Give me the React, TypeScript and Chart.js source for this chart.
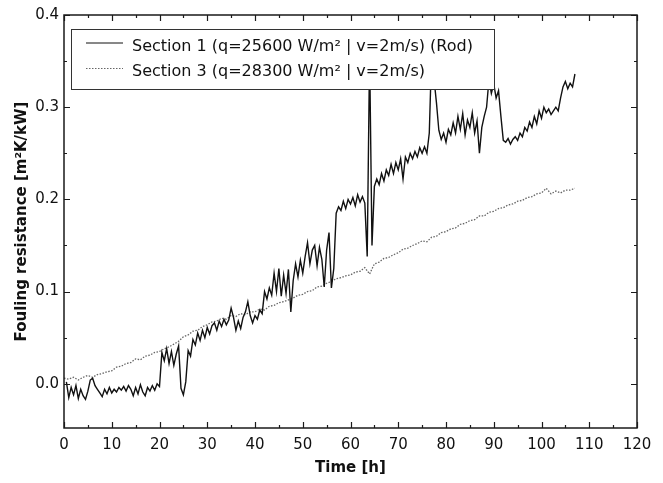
import React, { useEffect, useRef } from "react";
import { Chart, registerables } from "chart.js";

Chart.register(...registerables);

// ---- data ----
const section1Label = "Section 1 (q=25600 W/m² | v=2m/s) (Rod)";
const section3Label = "Section 3 (q=28300 W/m² | v=2m/s)";

// Section 1 sampled every 0.5 h starting at 0.5 h
const section1Start = 0.5;
const section1Step = 0.5;
const section1Values = [
  0.002, -0.015, -0.004, -0.012, -0.002, -0.016, -0.006, -0.013, -0.017, -0.008,
  0.004, 0.006, -0.002, -0.006, -0.010, -0.014, -0.006, -0.011, -0.004, -0.010,
  -0.006, -0.009, -0.004, -0.007, -0.003, -0.008, -0.002, -0.006, -0.013, -0.004,
  -0.011, -0.001, -0.009, -0.013, -0.004, -0.008, -0.002, -0.007, 0.000, -0.003,
  0.034, 0.025, 0.038, 0.022, 0.035, 0.020, 0.032, 0.041, -0.005, -0.012,
  0.002, 0.036, 0.030, 0.048, 0.042, 0.055, 0.047, 0.058, 0.050, 0.061,
  0.054, 0.063, 0.066, 0.058, 0.068, 0.062, 0.070, 0.064, 0.069, 0.082,
  0.072, 0.058, 0.068, 0.060, 0.072, 0.078, 0.089, 0.074, 0.066, 0.074,
  0.070, 0.080, 0.076, 0.100, 0.092, 0.104, 0.096, 0.120, 0.100, 0.125,
  0.095, 0.118, 0.098, 0.124, 0.078, 0.112, 0.130, 0.116, 0.134, 0.120,
  0.138, 0.153, 0.130, 0.145, 0.150, 0.128, 0.148, 0.135, 0.105, 0.145,
  0.164, 0.104, 0.125, 0.185, 0.192, 0.188, 0.198, 0.190, 0.200, 0.195,
  0.202, 0.193, 0.205, 0.197, 0.203, 0.196, 0.138, 0.360, 0.150, 0.214,
  0.222, 0.216, 0.228, 0.220, 0.232, 0.226, 0.238, 0.228, 0.240, 0.232,
  0.244, 0.222, 0.246, 0.240, 0.250, 0.244, 0.252, 0.246, 0.256, 0.250,
  0.257, 0.250, 0.272, 0.360, 0.330, 0.305, 0.275, 0.265, 0.272, 0.262,
  0.276, 0.270, 0.283, 0.272, 0.290, 0.276, 0.293, 0.270, 0.286, 0.278,
  0.294, 0.272, 0.285, 0.250, 0.278, 0.290, 0.300, 0.330, 0.315, 0.325,
  0.310, 0.318, 0.290, 0.264, 0.262, 0.266, 0.260, 0.265, 0.268, 0.264,
  0.272, 0.268, 0.278, 0.274, 0.284, 0.278, 0.290, 0.282, 0.296, 0.288,
  0.300, 0.294, 0.298, 0.292, 0.296, 0.300, 0.296, 0.310, 0.322, 0.328,
  0.320, 0.326, 0.322, 0.336,
];

// Section 3 sampled every 1 h starting at 0 h
const section3Start = 0;
const section3Step = 1;
const section3Values = [
  0.006, 0.005, 0.007, 0.004, 0.007, 0.009, 0.007, 0.010, 0.011, 0.013,
  0.014, 0.018, 0.019, 0.022, 0.023, 0.027, 0.026, 0.030, 0.031, 0.034,
  0.035, 0.038, 0.040, 0.043, 0.046, 0.051, 0.053, 0.057, 0.058, 0.062,
  0.064, 0.067, 0.068, 0.071, 0.070, 0.074, 0.073, 0.076, 0.075, 0.078,
  0.078, 0.081, 0.080, 0.084, 0.085, 0.088, 0.089, 0.091, 0.093, 0.096,
  0.097, 0.100, 0.101, 0.105, 0.106, 0.109, 0.111, 0.114, 0.115, 0.117,
  0.118, 0.121, 0.122, 0.126, 0.119, 0.130, 0.132, 0.136, 0.137, 0.140,
  0.142, 0.146, 0.147, 0.150, 0.152, 0.155, 0.154, 0.159, 0.160, 0.164,
  0.165, 0.168, 0.169, 0.173, 0.174, 0.177, 0.178, 0.182, 0.182, 0.186,
  0.187, 0.190, 0.191, 0.194, 0.195, 0.198, 0.199, 0.202, 0.203, 0.206,
  0.207, 0.212, 0.206, 0.209, 0.207, 0.210, 0.210, 0.212,
];

const xMajorTicks = [0, 10, 20, 30, 40, 50, 60, 70, 80, 90, 100, 110, 120];
const xMinorTicks = [5, 15, 25, 35, 45, 55, 65, 75, 85, 95, 105, 115];
const yMajorTicks = [0.0, 0.1, 0.2, 0.3, 0.4];
const yMinorTicks = [0.05, 0.15, 0.25, 0.35];

const xTitle = "Time [h]";
const yTitle = "Fouling resistance [m²K/kW]";

const FONT = "'DejaVu Sans', 'Liberation Sans', Arial, sans-serif";

function toPoints(start: number, step: number, values: number[]) {
  return values.map((v, i) => ({ x: start + i * step, y: v }));
}

const frameTicksPlugin = {
  id: "frameTicks",
  afterDatasetsDraw(chart: any) {
    const { ctx } = chart;
    // legend box
    const lx = 71.5, ly = 29.5, lw = 423, lh = 60;
    ctx.save();
    ctx.fillStyle = "#ffffff";
    ctx.fillRect(lx, ly, lw, lh);
    ctx.strokeStyle = "#333333";
    ctx.lineWidth = 1;
    ctx.strokeRect(lx, ly, lw, lh);
    const items = chart.data.datasets;
    const rows = [{ ly: 43, ty: 46.5 }, { ly: 68.5, ty: 72 }];
    items.forEach((ds: any, i: number) => {
      const r = rows[i];
      ctx.beginPath();
      ctx.strokeStyle = ds.borderColor;
      ctx.lineWidth = 1;
      ctx.setLineDash(ds.borderDash || []);
      ctx.moveTo(86, r.ly);
      ctx.lineTo(123, r.ly);
      ctx.stroke();
      ctx.setLineDash([]);
      ctx.fillStyle = "#111111";
      ctx.font = `16px ${FONT}`;
      ctx.textBaseline = "middle";
      ctx.textAlign = "left";
      ctx.fillText(ds.label, 132, r.ty);
    });
    ctx.restore();
  },
  afterDraw(chart: any) {
    const { ctx, chartArea, scales } = chart;
    const { left, right, top, bottom } = chartArea;
    const xs = scales.x, ys = scales.y;
    ctx.save();
    ctx.strokeStyle = "#1a1a1a";
    ctx.lineWidth = 1.5;
    ctx.strokeRect(left, top, right - left, bottom - top);
    ctx.lineWidth = 1.2;
    const drawX = (vals: number[], len: number) => {
      vals.forEach((v) => {
        const px = Math.round(xs.getPixelForValue(v)) + 0.5;
        ctx.beginPath();
        ctx.moveTo(px, bottom);
        ctx.lineTo(px, bottom - len);
        ctx.moveTo(px, top);
        ctx.lineTo(px, top + len);
        ctx.stroke();
      });
    };
    const drawY = (vals: number[], len: number) => {
      vals.forEach((v) => {
        const py = Math.round(ys.getPixelForValue(v)) + 0.5;
        ctx.beginPath();
        ctx.moveTo(left, py);
        ctx.lineTo(left + len, py);
        ctx.moveTo(right, py);
        ctx.lineTo(right - len, py);
        ctx.stroke();
      });
    };
    drawX(xMajorTicks, 6);
    drawX(xMinorTicks, 3);
    drawY(yMajorTicks, 6);
    drawY(yMinorTicks, 3);
    ctx.restore();
  },
};

export default function App() {
  const canvasRef = useRef<HTMLCanvasElement | null>(null);

  useEffect(() => {
    if (!canvasRef.current) return;
    const chart = new Chart(canvasRef.current, {
      type: "line",
      data: {
        datasets: [
          {
            label: section1Label,
            data: toPoints(section1Start, section1Step, section1Values),
            borderColor: "#111111",
            borderWidth: 1.4,
            pointRadius: 0,
            tension: 0,
            fill: false,
          },
          {
            label: section3Label,
            data: toPoints(section3Start, section3Step, section3Values),
            borderColor: "#666666",
            borderWidth: 1.3,
            borderDash: [1.5, 1.5],
            pointRadius: 0,
            tension: 0,
            fill: false,
          },
        ],
      },
      options: {
        animation: false,
        responsive: false,
        devicePixelRatio: 1,
        layout: { padding: { top: 15, right: 26, left: 0, bottom: 0 } },
        plugins: {
          legend: { display: false },
          tooltip: { enabled: false },
        },
        scales: {
          x: {
            type: "linear",
            min: 0,
            max: 120,
            border: { display: false },
            grid: { display: false, drawTicks: false },
            afterFit: (s: any) => {
              s.height = 55;
            },
            afterBuildTicks: (s: any) => {
              s.ticks = xMajorTicks.map((v) => ({ value: v }));
            },
            ticks: {
              padding: 8,
              color: "#111111",
              font: { family: FONT, size: 15 },
              maxRotation: 0,
              callback: (v: any) => String(v),
            },
            title: {
              display: true,
              text: xTitle,
              color: "#111111",
              font: { family: FONT, size: 15, weight: "bold" },
              padding: { top: 0, bottom: 6 },
            },
          },
          y: {
            type: "linear",
            min: -0.048,
            max: 0.4,
            border: { display: false },
            grid: { display: false, drawTicks: false },
            afterFit: (s: any) => {
              s.width = 64;
            },
            afterBuildTicks: (s: any) => {
              s.ticks = yMajorTicks.map((v) => ({ value: v }));
            },
            ticks: {
              padding: 5,
              color: "#111111",
              font: { family: FONT, size: 15 },
              callback: (v: any) => Number(v).toFixed(1),
            },
            title: {
              display: true,
              text: yTitle,
              color: "#111111",
              font: { family: FONT, size: 15, weight: "bold" },
              padding: { top: 13, bottom: 0 },
            },
          },
        },
      },
      plugins: [frameTicksPlugin],
    });
    return () => chart.destroy();
  }, []);

  return (
    <div style={{ position: "fixed", left: 0, top: 0, width: 663, height: 483, background: "#fff" }}>
      <canvas ref={canvasRef} width={663} height={483} style={{ display: "block", width: 663, height: 483 }} />
    </div>
  );
}
